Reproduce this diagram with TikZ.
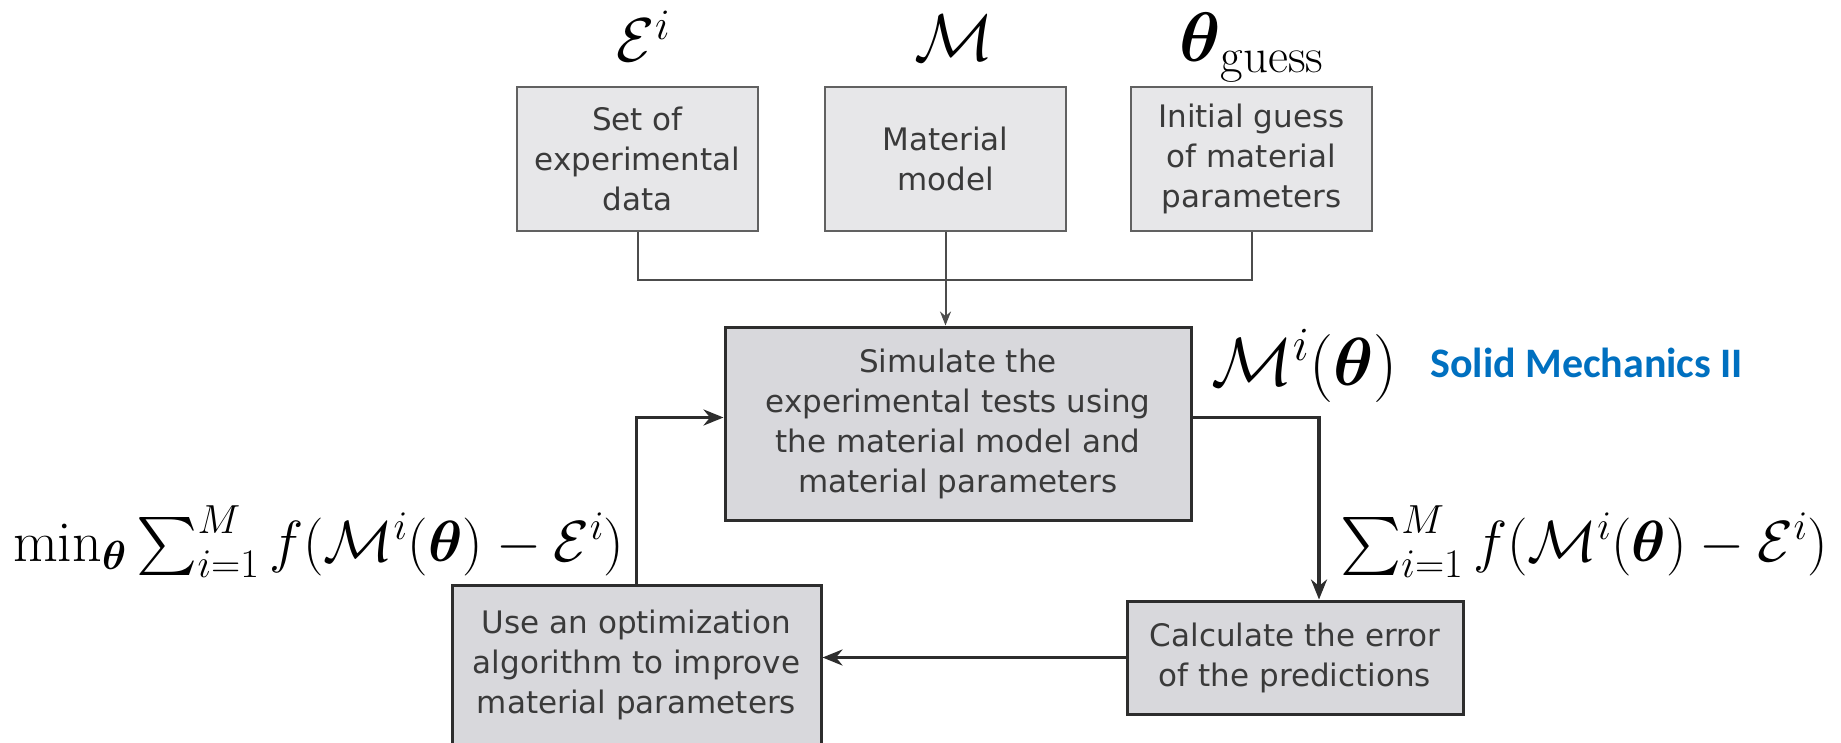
\RequirePackage{fix-cm}
\documentclass[tikz,border=0pt]{standalone}
\usepackage{amsmath}
\DeclareFontShape{OMX}{cmex}{m}{n}{<->cmex10}{}
\usepackage{fontspec}
\newfontfamily\boxfont{DejaVu Sans}
\newfontfamily\brandfont{Carlito}
\usepackage{tikz}
\usetikzlibrary{arrows.meta,positioning}
\definecolor{boxtext}{RGB}{58,58,58}
\definecolor{inputfill}{RGB}{231,231,233}
\definecolor{stepfill}{RGB}{216,216,220}
\definecolor{edge}{RGB}{45,45,45}
\definecolor{brand}{RGB}{0,112,192}

\begin{document}
\begin{tikzpicture}[x=1pt,y=-1pt,>={Stealth[length=20pt,width=16pt]},
  txt/.style={font=\boxfont\fontsize{31}{40}\selectfont,text=boxtext,align=center},
  inbox/.style={txt,draw=black!62,line width=2pt,fill=inputfill,minimum width=241pt,minimum height=144pt,inner sep=0pt},
  stepbox/.style={txt,draw=edge,line width=3pt,fill=stepfill,inner sep=0pt},
  feed/.style={draw=black!70,line width=2pt},
  back/.style={draw=edge,line width=3.5pt},
  lbl/.style={inner sep=0pt}]
  \useasboundingbox (0,0) rectangle (1841,743);
  % inputs
  \node[inbox] (exp) at (637.5,159) {Set of\\experimental\\data};
  \node[inbox,right=65pt of exp] (model) {Material\\model};
  \node[inbox,right=63pt of model] (guess) {Initial guess\\of material\\parameters};
  \node[lbl,font=\fontsize{62}{62}\selectfont,above=24pt of exp,anchor=base,xshift=6pt] (explbl) {$\mathcal{E}^i$};
  \node[lbl,font=\fontsize{66}{66}\selectfont,above=25pt of model,anchor=base,xshift=9pt] (modellbl) {$\mathcal{M}$};
  \node[lbl,font=\fontsize{70}{70}\selectfont,above=24pt of guess,anchor=base] (guesslbl) {$\boldsymbol{\theta}_{\text{guess}}$};
  % loop
  \node[stepbox,minimum width=466pt,minimum height=193pt] (sim) at (958,423.5) {Simulate the\\experimental tests using\\the material model and\\material parameters};
  \node[stepbox,minimum width=336pt,minimum height=113pt] (calc) at (1295,657.5) {Calculate the error\\of the predictions};
  \node[stepbox,minimum width=369pt,minimum height=160pt] (opt) at (636.5,665) {Use an optimization\\algorithm to improve\\material parameters};
  \node[lbl,font=\fontsize{68}{68}\selectfont,anchor=base west] (simlbl) at (1211,385) {$\mathcal{M}^i(\boldsymbol{\theta})$};
  \node[anchor=base west,inner sep=0pt,font=\brandfont\bfseries\fontsize{42}{42}\selectfont,text=brand] (course) at (1430,377) {Solid Mechanics II};
  \node[lbl,font=\fontsize{58}{58}\selectfont,anchor=base west] (errlbl) at (1340,561) {$\sum_{i=1}^M f(\mathcal{M}^i(\boldsymbol{\theta})-\mathcal{E}^i)$};
  \node[lbl,font=\fontsize{58}{58}\selectfont,anchor=base west] (minlbl) at (13,561) {$\min_{\boldsymbol{\theta}}\sum_{i=1}^M f(\mathcal{M}^i(\boldsymbol{\theta})-\mathcal{E}^i)$};
  % connectors
  \coordinate[below=48pt of model.south] (join);
  \draw[feed] (exp.south) |- (join) -| (guess.south);
  \draw[feed,-{Stealth[length=14pt,width=11pt]}] (model.south) -- (model.south |- sim.north);
  \draw[back,->] ([yshift=6pt]sim.east) -| ([xshift=24pt]calc.north);
  \draw[back,->] (calc.west) -- (calc.west -| opt.east);
  \draw[back,->] (opt.north) |- ([yshift=6pt]sim.west);
\end{tikzpicture}
\end{document}
